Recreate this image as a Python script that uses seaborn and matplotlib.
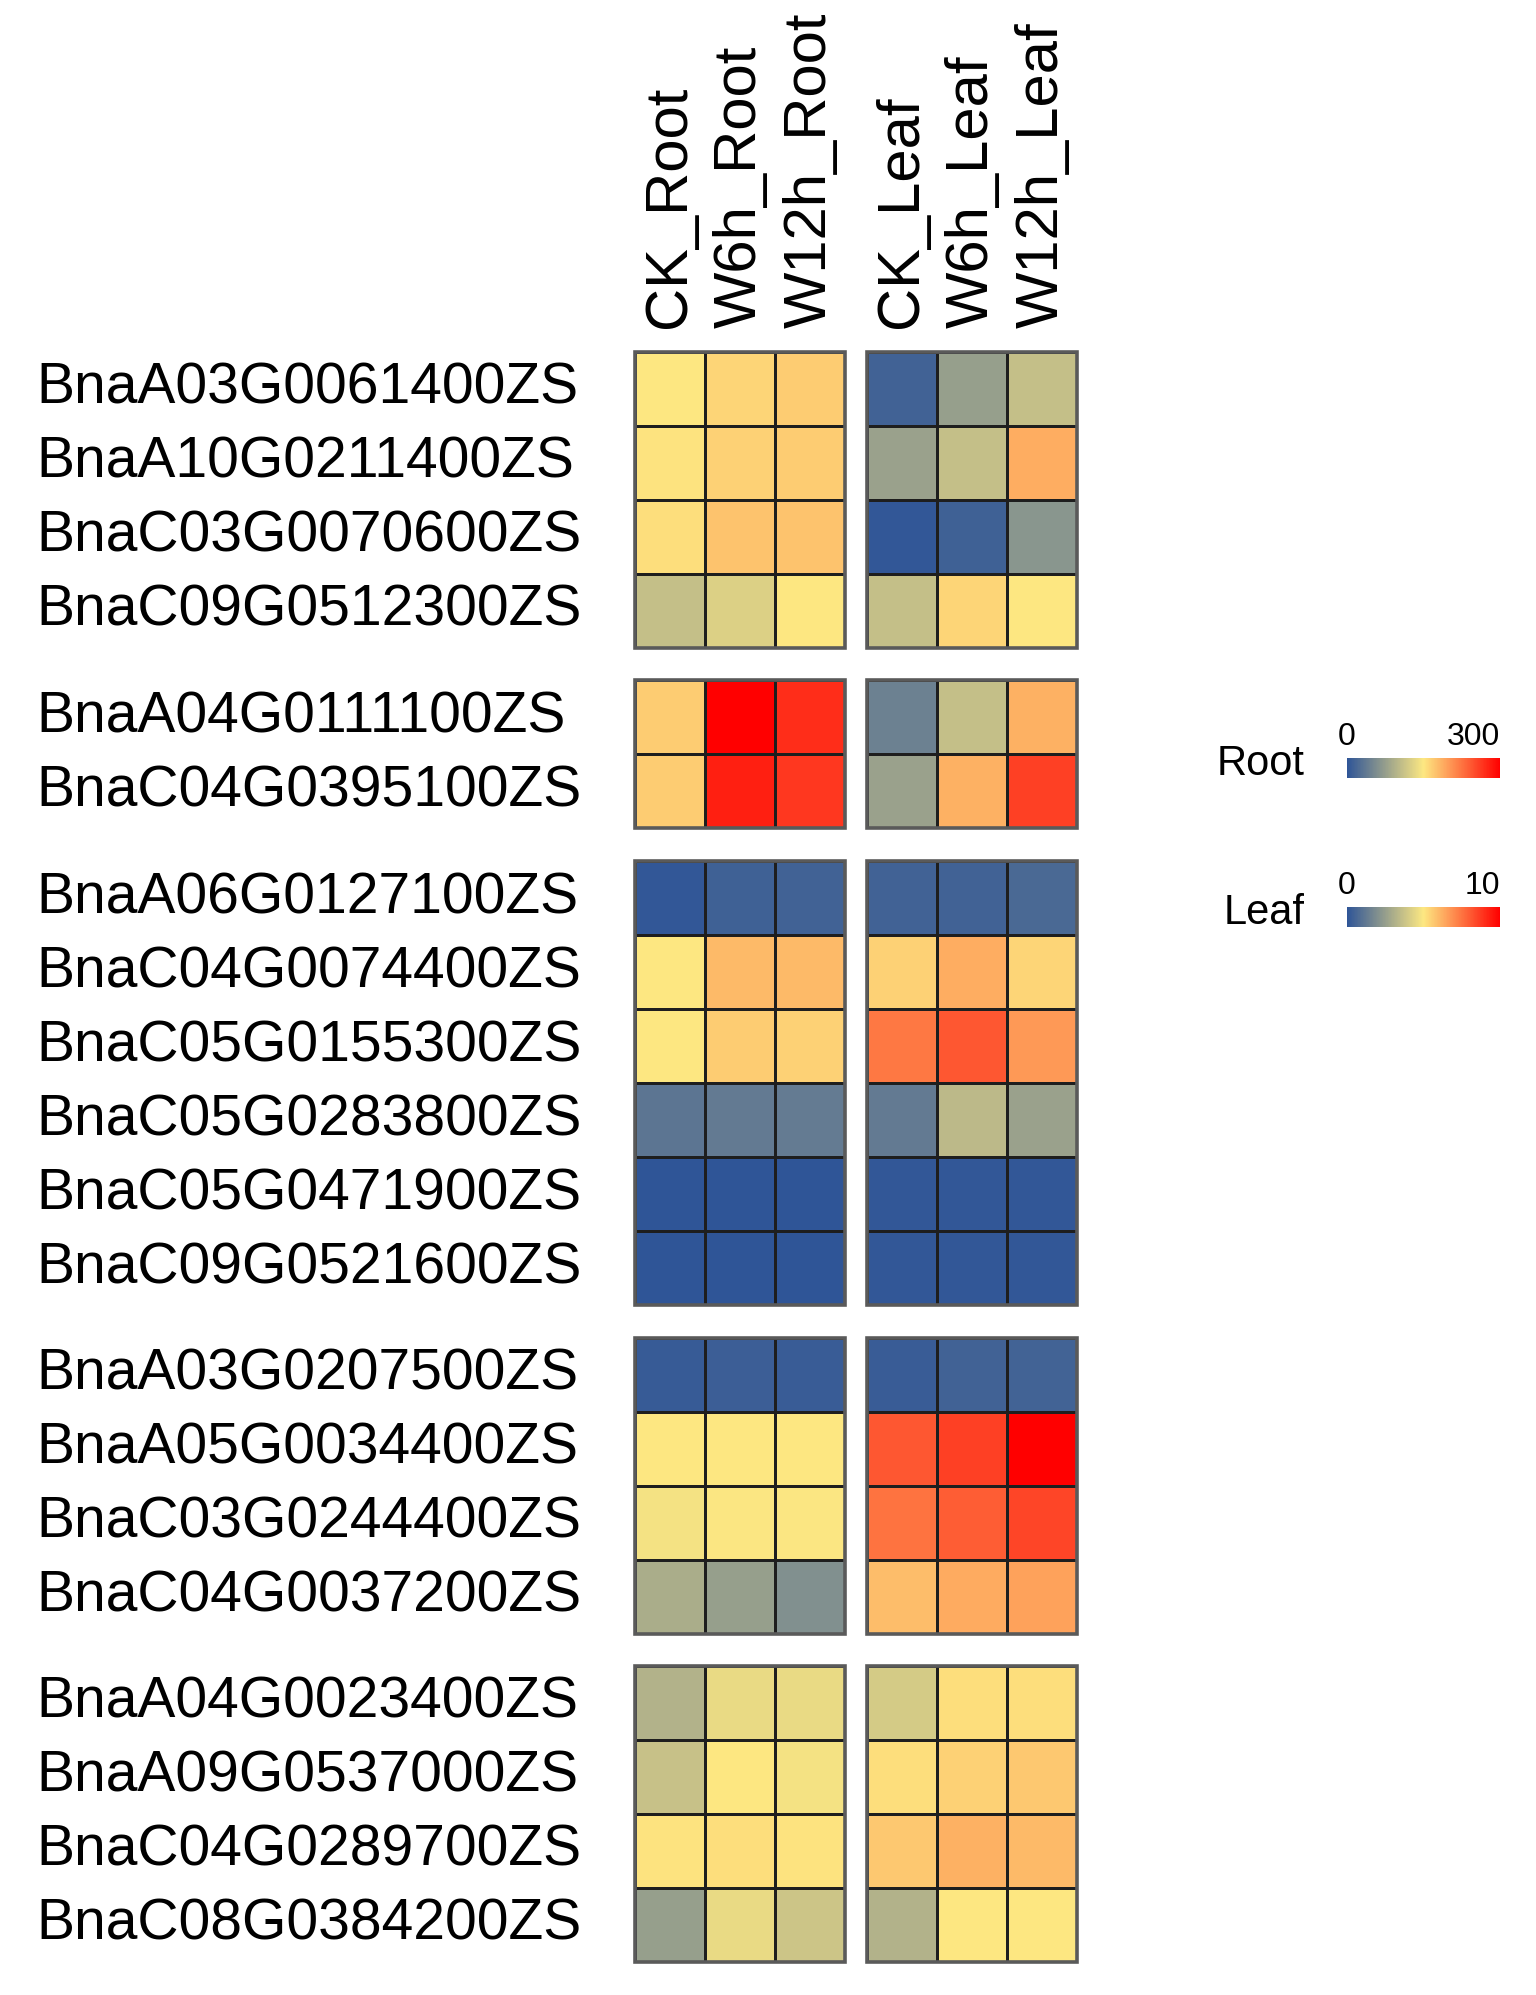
import numpy as np
import pandas as pd
import matplotlib
matplotlib.use("Agg")
import matplotlib.pyplot as plt
from matplotlib.colors import LinearSegmentedColormap, Normalize
from matplotlib.cm import ScalarMappable
from matplotlib.patches import Rectangle
import seaborn as sns

sns.set_style("white")
plt.rcParams['font.family'] = ['Liberation Sans', 'DejaVu Sans']
plt.rcParams['text.color'] = 'black'
plt.rcParams['xtick.color'] = 'black'
plt.rcParams['ytick.color'] = 'black'

# ---- data ----
genes = [
    "BnaA03G0061400ZS", "BnaA10G0211400ZS", "BnaC03G0070600ZS", "BnaC09G0512300ZS",
    "BnaA04G0111100ZS", "BnaC04G0395100ZS",
    "BnaA06G0127100ZS", "BnaC04G0074400ZS", "BnaC05G0155300ZS", "BnaC05G0283800ZS",
    "BnaC05G0471900ZS", "BnaC09G0521600ZS",
    "BnaA03G0207500ZS", "BnaA05G0034400ZS", "BnaC03G0244400ZS", "BnaC04G0037200ZS",
    "BnaA04G0023400ZS", "BnaA09G0537000ZS", "BnaC04G0289700ZS", "BnaC08G0384200ZS",
]
group_sizes = [4, 2, 6, 4, 4]
root_cols = ["CK_Root", "W6h_Root", "W12h_Root"]
leaf_cols = ["CK_Leaf", "W6h_Leaf", "W12h_Leaf"]

root_vals = [
    [150, 162, 168], [153, 165, 168], [156, 174, 174], [108, 126, 150],
    [168, 300, 270], [168, 279, 264],
    [3, 12, 14], [150, 180, 180], [150, 168, 165], [33, 38, 39], [0, 0, 0], [0, 0, 0],
    [6, 10, 8], [150, 150, 150], [144, 148, 148], [90, 75, 60],
    [96, 135, 135], [111, 150, 144], [153, 156, 153], [75, 135, 114],
]
leaf_vals = [
    [0.45, 2.5, 3.6], [2.6, 3.6, 6.25], [0.1, 0.4, 2.2], [3.6, 5.4, 5.0],
    [1.5, 3.6, 6.2], [2.6, 6.2, 8.6],
    [0.45, 0.45, 0.7], [5.5, 6.25, 5.4], [7.4, 8.1, 6.7], [1.25, 3.4, 2.6], [0.1, 0.1, 0.1], [0.1, 0.1, 0.1],
    [0.25, 0.45, 0.5], [8.1, 8.6, 10.0], [7.5, 8.0, 8.5], [5.9, 6.3, 6.5],
    [4.0, 5.2, 5.2], [5.2, 5.5, 5.7], [5.7, 6.2, 6.0], [3.2, 5.0, 5.0],
]
root_max = 300
leaf_max = 10

cmap = LinearSegmentedColormap.from_list("byr", ["#2f5597", "#fde882", "#ff0000"])

root_df = pd.DataFrame(root_vals, index=genes, columns=root_cols)
leaf_df = pd.DataFrame(leaf_vals, index=genes, columns=leaf_cols)

# ---- layout in pixels ----
W, H = 1536, 1995
fig = plt.figure(figsize=(W / 100, H / 100), dpi=100)

def px_axes(x, y, w, h):
    return fig.add_axes([x / W, 1 - (y + h) / H, w / W, h / H])

row_h = 74
gap = 32.5
top = 352
left_x, right_x, block_w = 635, 867, 210

start = 0
y = top
for gi, n in enumerate(group_sizes):
    h = n * row_h
    rows = slice(start, start + n)
    for x0, df, vmax in [(left_x, root_df, root_max), (right_x, leaf_df, leaf_max)]:
        ax = px_axes(x0, y, block_w, h)
        sns.heatmap(df.iloc[rows], ax=ax, cmap=cmap, vmin=0, vmax=vmax, cbar=False,
                    linewidths=1.8, linecolor="#1e1e1e", square=False)
        ax.add_patch(Rectangle((0, 0), 1, 1, transform=ax.transAxes, fill=False,
                               edgecolor="#5a5a5a", lw=2.6, clip_on=False, zorder=5))
        ax.set_ylabel("")
        ax.set_xlabel("")
        if x0 == left_x:
            ax.set_yticklabels(df.index[rows], rotation=0, ha="left", fontsize=41)
            ax.tick_params(axis="y", length=0, pad=431)
        else:
            ax.set_yticks([])
        if gi == 0:
            ax.xaxis.tick_top()
            ax.set_xticklabels(df.columns, rotation=90, ha="center", va="bottom", fontsize=43)
            ax.tick_params(axis="x", length=0, pad=17)
        else:
            ax.set_xticks([])
    start += n
    y += h + gap

# ---- legends ----
for name, vmax, by in [("Root", root_max, 758), ("Leaf", leaf_max, 907)]:
    cax = px_axes(1347, by, 153, 20)
    cb = fig.colorbar(ScalarMappable(norm=Normalize(0, vmax), cmap=cmap), cax=cax,
                      orientation="horizontal")
    cb.outline.set_visible(False)
    cb.set_ticks([0, vmax])
    cax.xaxis.set_ticks_position("top")
    cax.tick_params(axis="x", length=0, labelsize=23, pad=4)
    labs = cax.get_xticklabels()
    labs[-1].set_horizontalalignment("right")
    fig.text(1305 / W, 1 - (by + 6) / H, name, ha="right", va="center", fontsize=30)

fig.savefig("out.png", dpi=100, facecolor="white")
